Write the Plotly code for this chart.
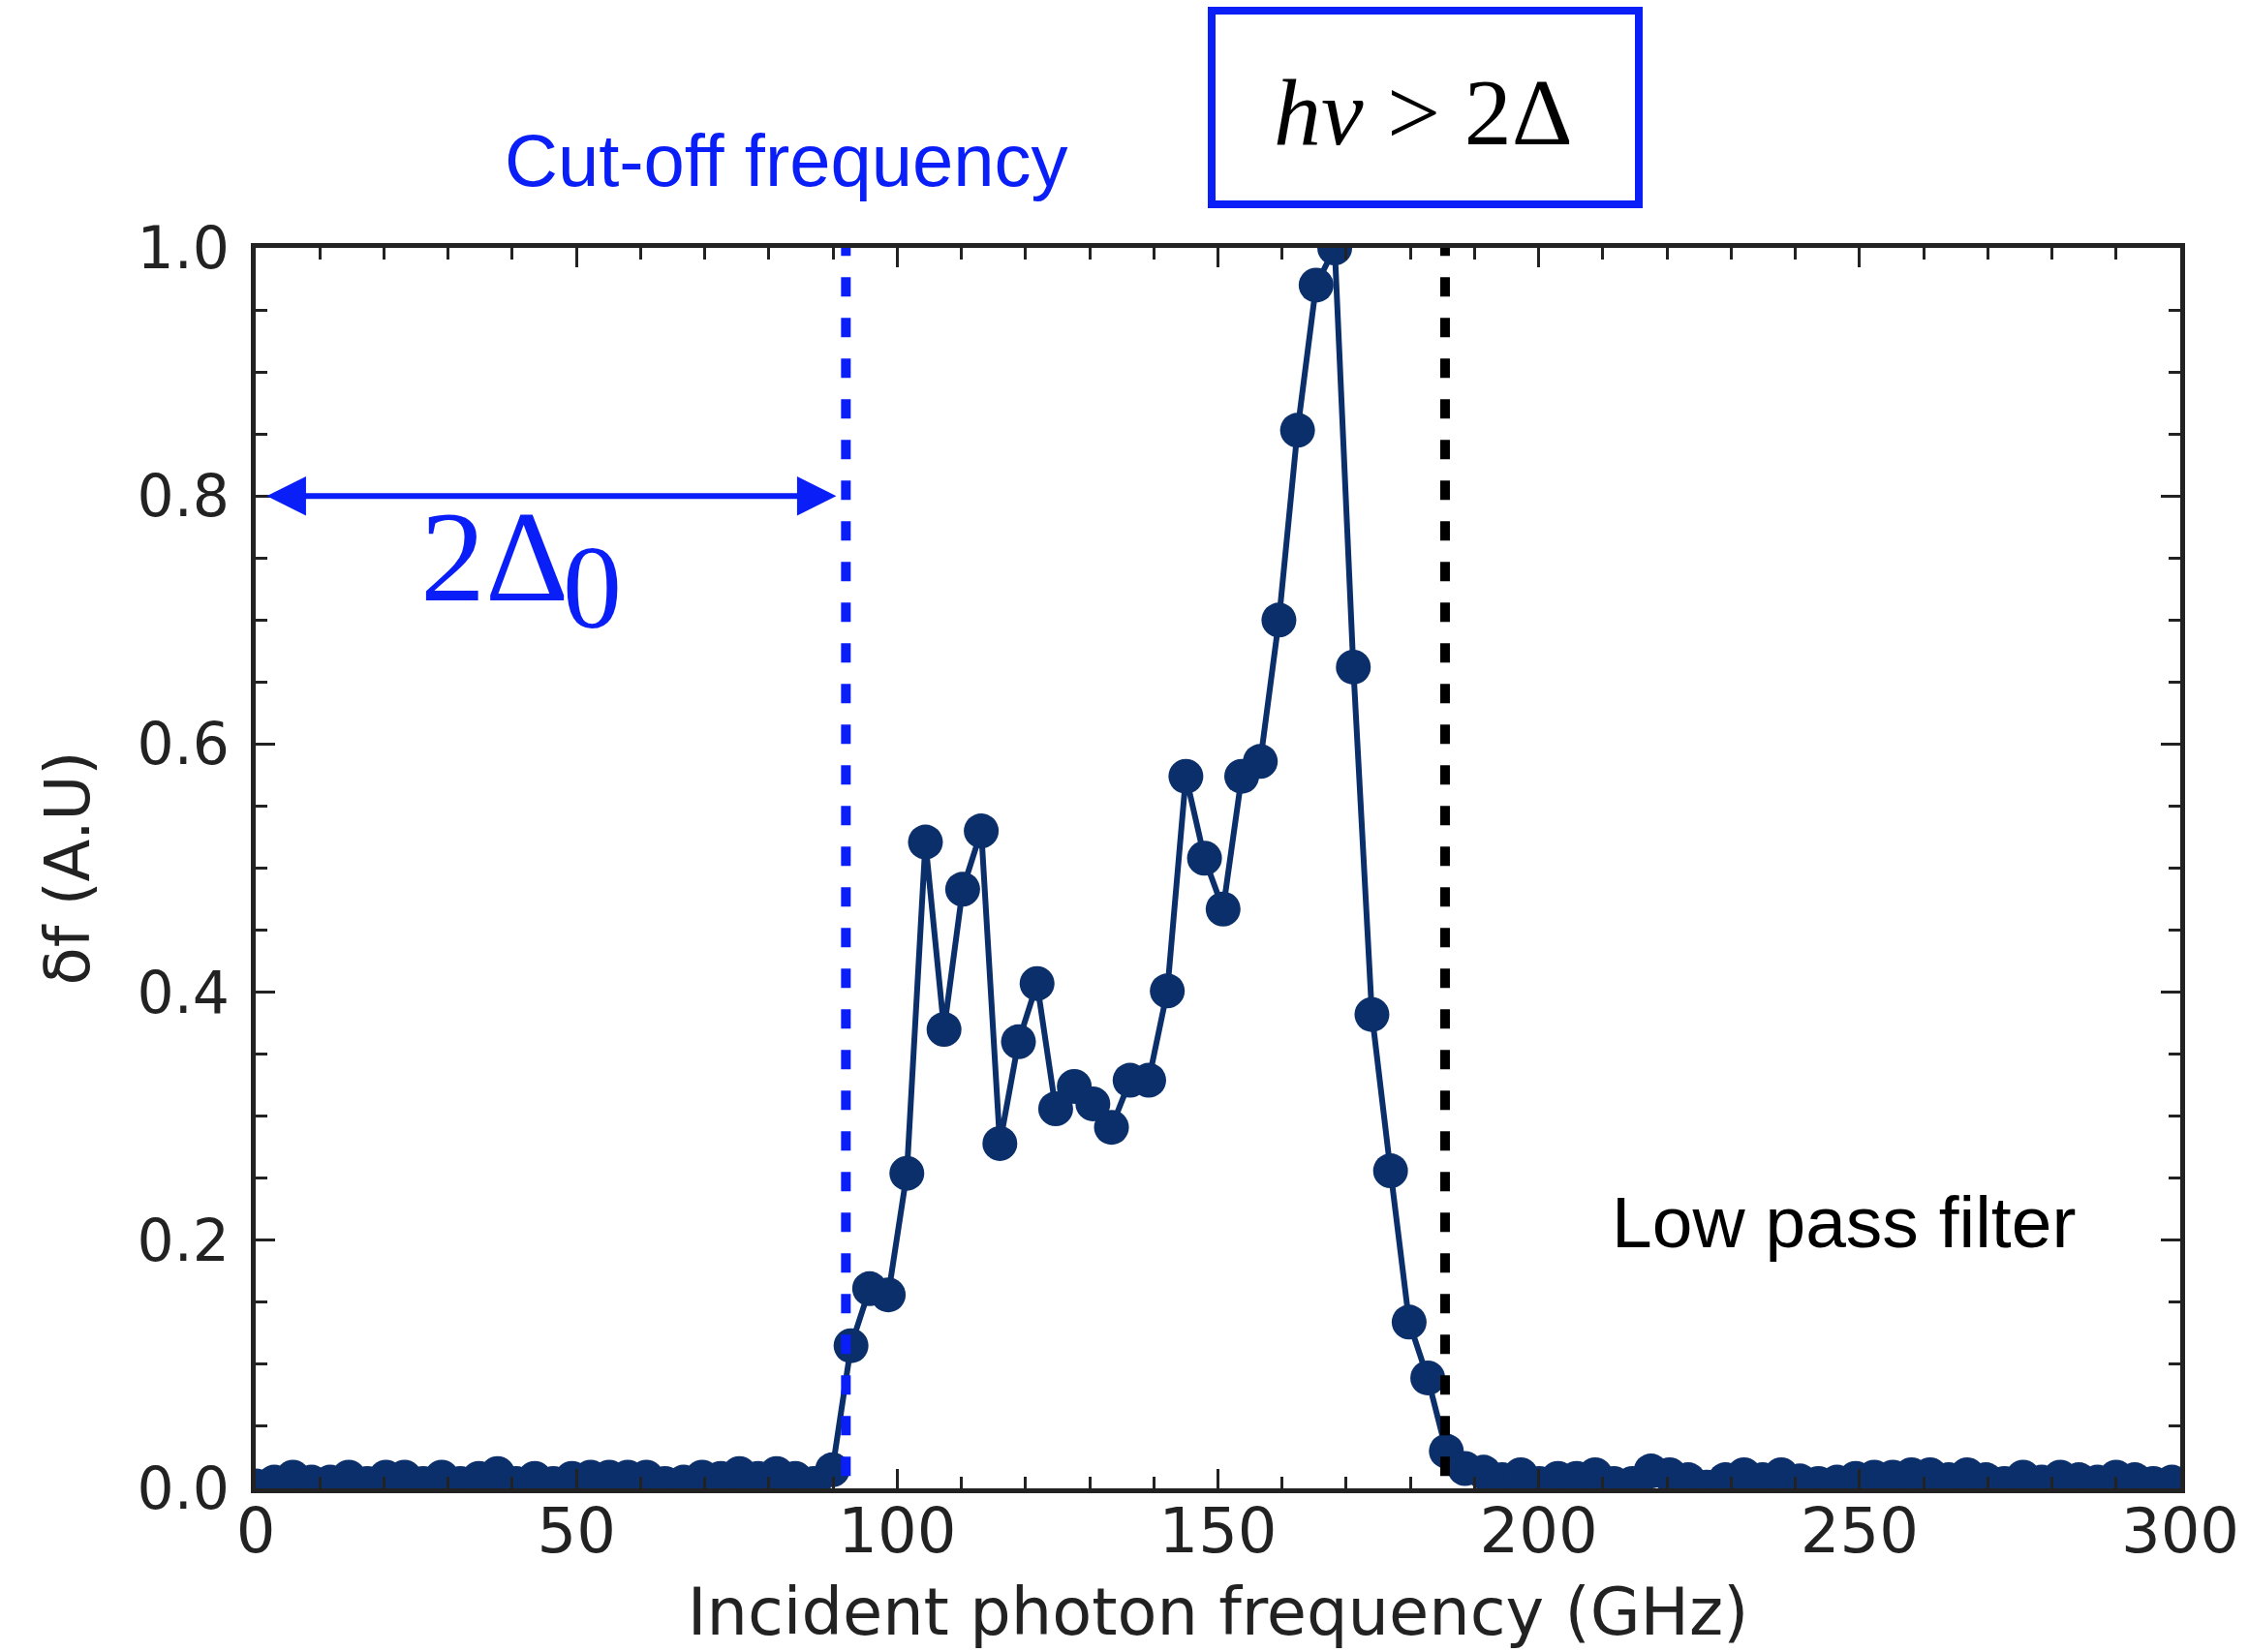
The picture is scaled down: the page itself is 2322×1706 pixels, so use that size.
import plotly.graph_objects as go

# ---------------- data ----------------
freq_ghz = [
    0.0, 2.9, 5.8, 8.7, 11.6, 14.5, 17.4, 20.3, 23.2, 26.1, 29.0, 31.9, 34.8, 37.7,
    40.6, 43.5, 46.4, 49.3, 52.2, 55.1, 58.0, 60.9, 63.8, 66.7, 69.6, 72.5, 75.4,
    78.3, 81.2, 84.1, 87.0, 89.9, 92.8, 95.7, 98.6, 101.5, 104.4, 107.3, 110.2,
    113.1, 116.0, 118.9, 121.8, 124.7, 127.6, 130.5, 133.4, 136.3, 139.2, 142.1,
    145.0, 147.9, 150.8, 153.7, 156.6, 159.5, 162.4, 165.3, 168.2, 171.1, 174.0,
    176.9, 179.8, 182.7, 185.6, 188.5, 191.4, 194.3, 197.2, 200.1, 203.0, 205.9,
    208.8, 211.7, 214.6, 217.5, 220.4, 223.3, 226.2, 229.1, 232.0, 234.9, 237.8,
    240.7, 243.6, 246.5, 249.4, 252.3, 255.2, 258.1, 261.0, 263.9, 266.8, 269.7,
    272.6, 275.5, 278.4, 281.3, 284.2, 287.1, 290.0, 292.9, 295.8, 298.7,
]
df_au = [
    # below the cut-off (baseline)
    0.002, 0.005, 0.009, 0.005, 0.005, 0.009, 0.004, 0.009, 0.009, 0.004, 0.009,
    0.004, 0.008, 0.012, 0.004, 0.008, 0.004, 0.008, 0.009, 0.009, 0.009, 0.009,
    0.004, 0.005, 0.009, 0.008, 0.012, 0.008, 0.012, 0.008, 0.004, 0.015,
    # response band
    0.115, 0.161, 0.156, 0.254, 0.521, 0.370, 0.483, 0.530, 0.278, 0.360, 0.407,
    0.306, 0.324, 0.310, 0.291, 0.329, 0.329, 0.401, 0.574, 0.508, 0.467, 0.574,
    0.586, 0.700, 0.853, 0.970, 1.000, 0.662, 0.382, 0.256, 0.134, 0.089, 0.030,
    # above the low pass filter (baseline)
    0.016, 0.013, 0.007, 0.011, 0.004, 0.008, 0.008, 0.011, 0.004, 0.004, 0.014,
    0.011, 0.007, 0.001, 0.007, 0.011, 0.007, 0.011, 0.006, 0.004, 0.005, 0.008,
    0.009, 0.009, 0.011, 0.011, 0.007, 0.011, 0.007, 0.004, 0.009, 0.005, 0.009,
    0.007, 0.005, 0.009, 0.007, 0.004, 0.005,
]
x_ticks = [0, 50, 100, 150, 200, 250, 300]
y_ticks = [0.0, 0.2, 0.4, 0.6, 0.8, 1.0]

cutoff_ghz = 92.0        # blue dotted line
lowpass_ghz = 185.4      # black dotted line
gap_from_ghz = 1.5       # 2Δ0 arrow
gap_to_ghz = 90.5
gap_level = 0.8

# ---------------- layout helpers ----------------
W, H = 2322, 1706
L, R, T, B = 264, 2251, 256, 1537   # plot area in pixels


def px(xp):
    return (xp - L) / (R - L)


def py(yp):
    return (B - yp) / (B - T)


NAVY = '#0b2f6a'
BLUE = '#0a1ef8'
AX = '#222222'

fig = go.Figure()
fig.add_trace(go.Scatter(
    x=freq_ghz, y=df_au, mode='lines+markers',
    line=dict(color=NAVY, width=6),
    marker=dict(color=NAVY, size=36, line=dict(width=0)),
    cliponaxis=True, showlegend=False, hoverinfo='skip'))

dash = '20px,22px'
fig.add_shape(type='line', xref='x', yref='y', x0=cutoff_ghz, x1=cutoff_ghz,
              y0=0.01, y1=1.0, line=dict(color=BLUE, width=10, dash=dash))
fig.add_shape(type='line', xref='x', yref='y', x0=lowpass_ghz, x1=lowpass_ghz,
              y0=0.01, y1=1.0, line=dict(color='black', width=10, dash=dash))

# box around h nu > 2 Delta
fig.add_shape(type='rect', xref='paper', yref='paper',
              x0=px(1251), x1=px(1692), y0=py(211), y1=py(11),
              line=dict(color=BLUE, width=8), fillcolor='rgba(0,0,0,0)')

anns = []
# double arrow 2Δ0
anns.append(dict(x=gap_to_ghz, y=gap_level, ax=gap_from_ghz, ay=gap_level,
                 xref='x', yref='y', axref='x', ayref='y', text='',
                 showarrow=True, arrowside='end+start', arrowhead=2,
                 arrowwidth=6, arrowsize=1.35, arrowcolor=BLUE))
anns.append(dict(x=px(510), y=py(575), xref='paper', yref='paper',
                 text='2Δ', showarrow=False, xanchor='center', yanchor='middle',
                 font=dict(family='Liberation Serif', size=134, color=BLUE)))
anns.append(dict(x=px(611), y=py(606), xref='paper', yref='paper',
                 text='0', showarrow=False, xanchor='center', yanchor='middle',
                 font=dict(family='Liberation Serif', size=122, color=BLUE)))
anns.append(dict(x=px(812), y=py(166), xref='paper', yref='paper',
                 text='Cut-off frequency', showarrow=False,
                 xanchor='center', yanchor='middle',
                 font=dict(family='Liberation Sans', size=76, color=BLUE)))
anns.append(dict(x=px(1469), y=py(116), xref='paper', yref='paper',
                 text='<i>hν</i> > 2Δ', showarrow=False,
                 xanchor='center', yanchor='middle',
                 font=dict(family='Liberation Serif', size=98, color='black')))
anns.append(dict(x=px(1903), y=py(1262), xref='paper', yref='paper',
                 text='Low pass filter', showarrow=False,
                 xanchor='center', yanchor='middle',
                 font=dict(family='Liberation Sans', size=75, color='black')))

axis_common = dict(
    ticks='inside', tickwidth=3, tickcolor=AX, ticklen=20,
    showline=True, linewidth=5, linecolor=AX, mirror='ticks',
    showgrid=False, zeroline=False,
)

fig.update_layout(
    width=W, height=H,
    margin=dict(l=L, r=W - R, t=T, b=H - B, autoexpand=False),
    paper_bgcolor='white', plot_bgcolor='white',
    annotations=anns,
    xaxis=dict(
        range=[0, 300], tickvals=x_ticks, ticktext=[str(v) for v in x_ticks],
        minor=dict(dtick=10, tick0=0, ticks='inside', ticklen=12, tickwidth=2.5,
                   tickcolor=AX),
        tickfont=dict(family='DejaVu Sans', size=64, color=AX),
        ticklabelstandoff=-16,
        title=dict(text='Incident photon frequency (GHz)', standoff=26,
                   font=dict(family='DejaVu Sans', size=67, color=AX)),
        automargin=False, **axis_common),
    yaxis=dict(
        range=[0, 1], tickvals=y_ticks, ticktext=[f'{v:.1f}' for v in y_ticks],
        minor=dict(dtick=0.05, tick0=0, ticks='inside', ticklen=12, tickwidth=2.5,
                   tickcolor=AX),
        tickfont=dict(family='DejaVu Sans', size=60, color=AX),
        ticklabelstandoff=10,
        title=dict(text='δf (A.U)', standoff=30,
                   font=dict(family='DejaVu Sans', size=64, color=AX)),
        automargin=False, **axis_common),
)

fig.write_html('out.html',
               config={'displayModeBar': False},
               post_script="document.body.style.margin='0px';"
                           "document.body.style.overflow='hidden';")
